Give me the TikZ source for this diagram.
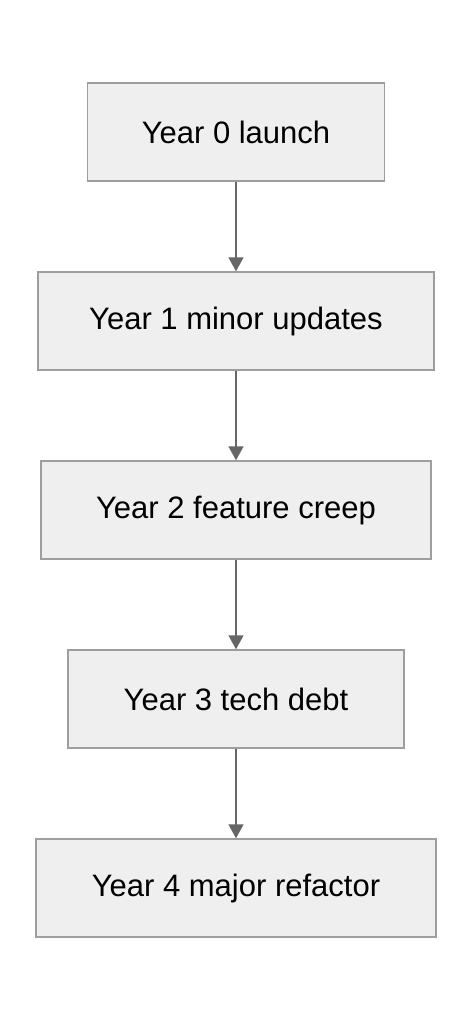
\documentclass[tikz,border=0pt]{standalone}
\usepackage{fontspec}
\setmainfont{Liberation Sans}
\usetikzlibrary{arrows.meta}
\definecolor{boxfill}{HTML}{EFEFEF}
\definecolor{boxline}{HTML}{9E9E9E}
\definecolor{arrowcol}{HTML}{666666}
\begin{document}
\begin{tikzpicture}[x=1pt,y=-1pt,
  stage/.style={draw=boxline,fill=boxfill,line width=1.5pt,rectangle,inner sep=0pt,
    font=\fontsize{31}{36}\selectfont,text=black},
  flow/.style={draw=arrowcol,line width=1.6pt,-{Triangle[width=15pt,length=14pt]}}]
\useasboundingbox (0,0) rectangle (472,1020);
\fill[white] (0,0) rectangle (472,1020);
\node[stage,minimum width=297pt,minimum height=98pt] (y0) at (236,132) {Year 0 launch};
\node[stage,minimum width=396pt,minimum height=98pt] (y1) at (236,321) {Year 1 minor updates};
\node[stage,minimum width=390pt,minimum height=98pt] (y2) at (236,510) {Year 2 feature creep};
\node[stage,minimum width=336pt,minimum height=98pt] (y3) at (236,699) {Year 3 tech debt};
\node[stage,minimum width=400pt,minimum height=98pt] (y4) at (236,888) {Year 4 major refactor};
\draw[flow] (y0) -- (y1);
\draw[flow] (y1) -- (y2);
\draw[flow] (y2) -- (y3);
\draw[flow] (y3) -- (y4);
\end{tikzpicture}
\end{document}
